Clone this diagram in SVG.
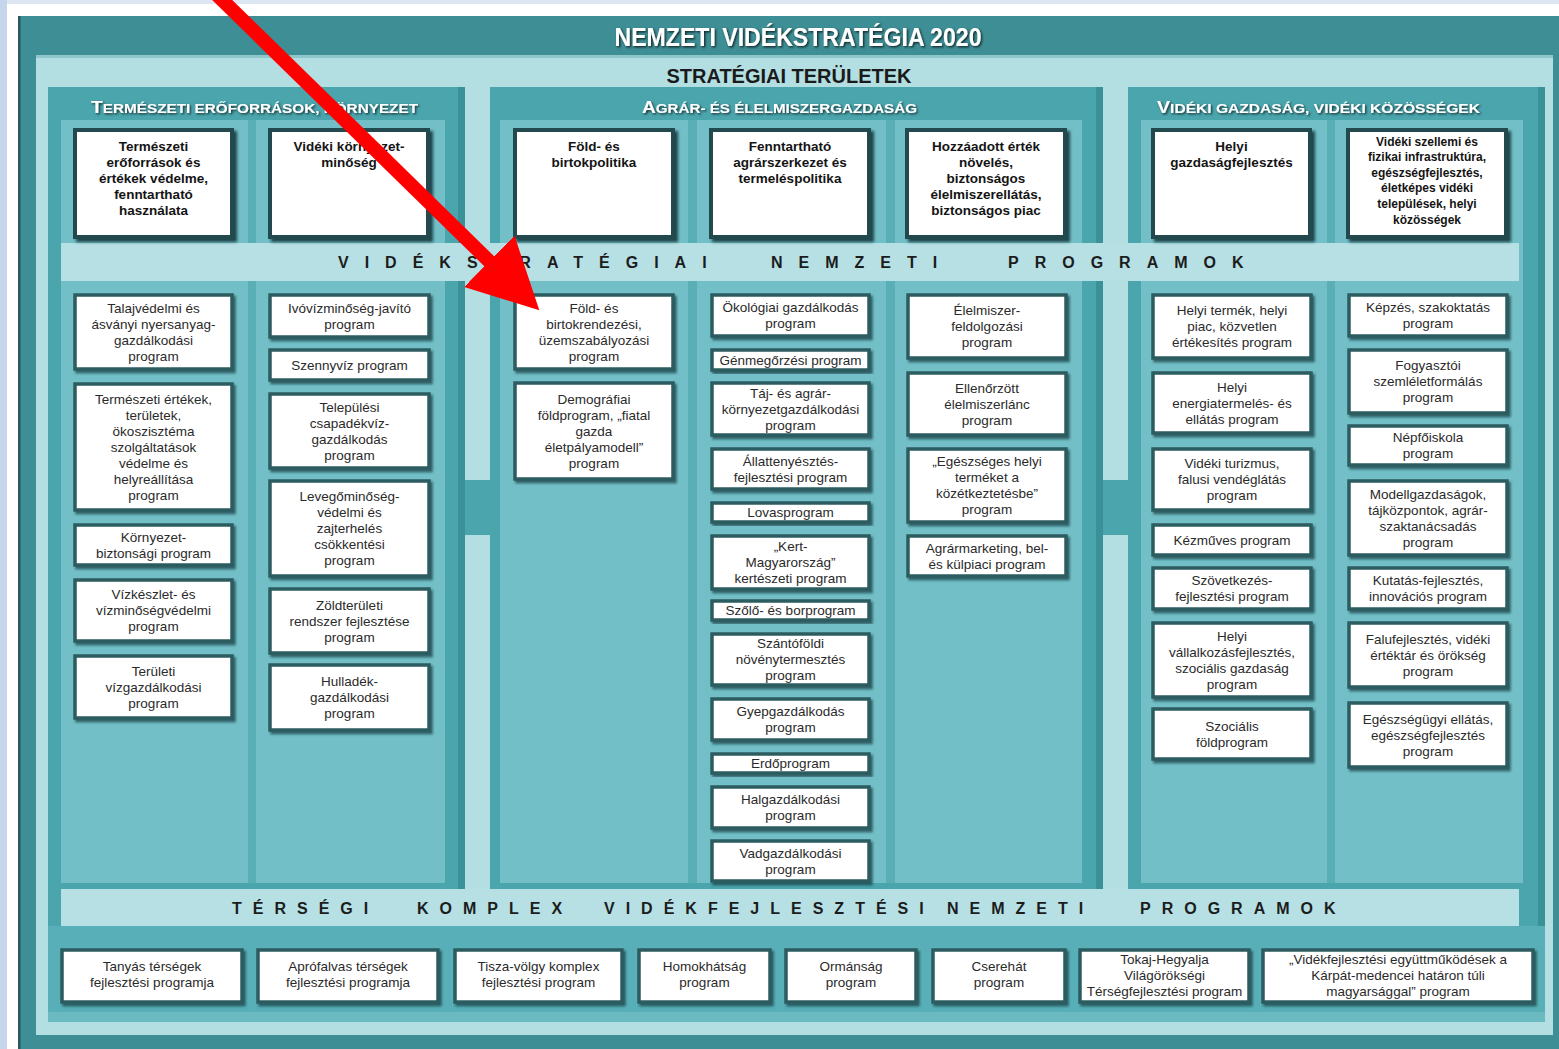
<svg xmlns="http://www.w3.org/2000/svg" width="1559" height="1049" viewBox="0 0 1559 1049">
<defs>
<style>
text{font-family:"Liberation Sans",Arial,sans-serif}
.pb{fill:#fff;stroke:#2c5c61;stroke-width:3.5;filter:url(#bsh)}
.sb{fill:#fff;stroke:#22494d;stroke-width:4;filter:url(#ssh)}
.pt{font-size:13.5px;fill:#2a2a2a;text-anchor:middle}
.st{font-size:13.5px;font-weight:bold;fill:#141414;text-anchor:middle}
.st2{font-size:12px;font-weight:bold;fill:#141414;text-anchor:middle}
.band{font-size:16px;font-weight:bold;fill:#1c1c1c;letter-spacing:16px}
.band2{font-size:16px;font-weight:bold;fill:#1c1c1c;letter-spacing:11px}
.hdr{font-weight:bold;fill:#fff;filter:url(#tsh)}
.big{font-size:17px}
.sm{font-size:13.5px}
.col{fill:#73bfc7}
.inr{fill:#5aaeb6}
.gap{fill:#b3dee2}
.shd{fill:#3a9198}
</style>
<filter id="tsh" x="-5%" y="-30%" width="110%" height="170%"><feDropShadow dx="1.3" dy="1.3" stdDeviation="0.9" flood-color="#000" flood-opacity="0.75"/></filter>
<filter id="bsh" x="-5%" y="-10%" width="115%" height="130%"><feDropShadow dx="2" dy="2.5" stdDeviation="1.2" flood-color="#12373a" flood-opacity="0.7"/></filter>
<filter id="ssh" x="-5%" y="-5%" width="115%" height="120%"><feDropShadow dx="3" dy="3" stdDeviation="1.6" flood-color="#0f2f32" flood-opacity="0.85"/></filter>
<marker id="redhead" markerUnits="userSpaceOnUse" viewBox="0 0 70 72" refX="1" refY="36" markerWidth="70" markerHeight="72" orient="auto"><path d="M0,0 L70,36 L0,72 Z" fill="#ff0000"/></marker>
</defs>

<g id="background">
<rect x="0" y="0" width="1559" height="1049" fill="#ffffff"/>
<rect x="0" y="0" width="1559" height="4" fill="#dce7f3"/>
<rect x="0" y="0" width="7" height="1049" fill="#c5d5ec"/>
<rect x="18" y="16" width="1545" height="1040" fill="#3e8e95"/>
<rect x="18" y="16" width="2.5" height="1040" fill="#27585c"/>
<rect x="36" y="55" width="1517" height="980" fill="#b3dee2"/>
<rect x="36" y="55" width="1517" height="3" fill="#8fc6cc"/>
<rect x="48" y="87" width="1497" height="935" fill="#4ba5ad"/>
<rect class="gap" x="465" y="87" width="25" height="393"/>
<rect class="gap" x="465" y="535" width="25" height="354"/>
<rect class="gap" x="1103" y="87" width="25" height="393"/>
<rect class="gap" x="1103" y="535" width="25" height="354"/>
<rect class="shd" x="458" y="87" width="7" height="802"/>
<rect class="shd" x="1096" y="87" width="7" height="802"/>
<rect class="shd" x="1538" y="87" width="7" height="935"/>
<rect class="inr" x="61" y="120" width="384" height="763"/>
<rect class="inr" x="500" y="120" width="582" height="763"/>
<rect class="inr" x="1141" y="120" width="382" height="763"/>
<rect class="col" x="61" y="120" width="187" height="763"/>
<rect class="col" x="256" y="120" width="189" height="763"/>
<rect class="col" x="500" y="120" width="188" height="763"/>
<rect class="col" x="697" y="120" width="189" height="763"/>
<rect class="col" x="895" y="120" width="187" height="763"/>
<rect class="col" x="1141" y="120" width="186" height="763"/>
<rect class="col" x="1335" y="120" width="188" height="763"/>
<rect x="48" y="926" width="1497" height="96" fill="#58afb7"/>
<rect x="48" y="1012" width="1497" height="10" fill="#6cbac1"/>
<rect x="61" y="243" width="1458" height="38" fill="#b6e0e4"/>
<rect x="61" y="889" width="1458" height="37" fill="#b6e0e4"/>
</g>

<g id="titles">
<text x="798" y="46" font-size="25" font-weight="bold" fill="#fff" text-anchor="middle" textLength="367" lengthAdjust="spacingAndGlyphs" filter="url(#tsh)">NEMZETI VIDÉKSTRATÉGIA 2020</text>
<text x="789" y="83" font-size="21" font-weight="bold" fill="#1a1a1a" text-anchor="middle" textLength="245" lengthAdjust="spacingAndGlyphs">STRATÉGIAI TERÜLETEK</text>
<text class="hdr" x="91" y="113" textLength="327" lengthAdjust="spacingAndGlyphs"><tspan class="big">T</tspan><tspan class="sm">ERMÉSZETI ERŐFORRÁSOK, KÖRNYEZET</tspan></text>
<text class="hdr" x="642" y="113" textLength="275" lengthAdjust="spacingAndGlyphs"><tspan class="big">A</tspan><tspan class="sm">GRÁR- ÉS ÉLELMISZERGAZDASÁG</tspan></text>
<text class="hdr" x="1157" y="113" textLength="323" lengthAdjust="spacingAndGlyphs"><tspan class="big">V</tspan><tspan class="sm">IDÉKI GAZDASÁG, VIDÉKI KÖZÖSSÉGEK</tspan></text>
<text class="band" x="338" y="268">VIDÉKSTRATÉGIAI</text>
<text class="band" x="771" y="268">NEMZETI</text>
<text class="band" x="1008" y="268">PROGRAMOK</text>
<text class="band2" x="232" y="914">TÉRSÉGI</text>
<text class="band2" x="417" y="914">KOMPLEX</text>
<text class="band2" x="604" y="914">VIDÉKFEJLESZTÉSI</text>
<text class="band2" x="947" y="914">NEMZETI</text>
<text class="band2" x="1140" y="914">PROGRAMOK</text>
</g>

<g id="strat-termeszeti-eroforrasok"><rect class="sb" x="75" y="130" width="157" height="107"/><text class="st" y="150.5"><tspan x="153.5">Természeti</tspan><tspan x="153.5" dy="16">erőforrások és</tspan><tspan x="153.5" dy="16">értékek védelme,</tspan><tspan x="153.5" dy="16">fenntartható</tspan><tspan x="153.5" dy="16">használata</tspan></text></g>
<g id="strat-videki-kornyezet"><rect class="sb" x="270" y="130" width="158" height="107"/><text class="st" y="150.5"><tspan x="349">Vidéki környezet-</tspan><tspan x="349" dy="16">minőség</tspan></text></g>
<g id="strat-fold-birtok"><rect class="sb" x="515" y="130" width="158" height="107"/><text class="st" y="150.5"><tspan x="594">Föld- és</tspan><tspan x="594" dy="16">birtokpolitika</tspan></text></g>
<g id="strat-agrarszerkezet"><rect class="sb" x="711" y="130" width="158" height="107"/><text class="st" y="150.5"><tspan x="790">Fenntartható</tspan><tspan x="790" dy="16">agrárszerkezet és</tspan><tspan x="790" dy="16">termeléspolitika</tspan></text></g>
<g id="strat-hozzaadott-ertek"><rect class="sb" x="907" y="130" width="158" height="107"/><text class="st" y="150.5"><tspan x="986">Hozzáadott érték</tspan><tspan x="986" dy="16">növelés,</tspan><tspan x="986" dy="16">biztonságos</tspan><tspan x="986" dy="16">élelmiszerellátás,</tspan><tspan x="986" dy="16">biztonságos piac</tspan></text></g>
<g id="strat-helyi-gazdasag"><rect class="sb" x="1153" y="130" width="157" height="107"/><text class="st" y="150.5"><tspan x="1231.5">Helyi</tspan><tspan x="1231.5" dy="16">gazdaságfejlesztés</tspan></text></g>
<g id="strat-videki-infrastruktura"><rect class="sb" x="1348" y="130" width="158" height="107"/><text class="st2" y="145.5"><tspan x="1427">Vidéki szellemi és</tspan><tspan x="1427" dy="15.6">fizikai infrastruktúra,</tspan><tspan x="1427" dy="15.6">egészségfejlesztés,</tspan><tspan x="1427" dy="15.6">életképes vidéki</tspan><tspan x="1427" dy="15.6">települések, helyi</tspan><tspan x="1427" dy="15.6">közösségek</tspan></text></g>

<g id="p-talajvedelmi"><rect class="pb" x="75" y="295" width="157" height="74"/><text class="pt" y="312.5"><tspan x="153.5">Talajvédelmi és</tspan><tspan x="153.5" dy="16">ásványi nyersanyag-</tspan><tspan x="153.5" dy="16">gazdálkodási</tspan><tspan x="153.5" dy="16">program</tspan></text></g>
<g id="p-termeszeti-ertekek"><rect class="pb" x="75" y="384" width="157" height="126"/><text class="pt" y="403.5"><tspan x="153.5">Természeti értékek,</tspan><tspan x="153.5" dy="16">területek,</tspan><tspan x="153.5" dy="16">ökoszisztéma</tspan><tspan x="153.5" dy="16">szolgáltatások</tspan><tspan x="153.5" dy="16">védelme és</tspan><tspan x="153.5" dy="16">helyreállítása</tspan><tspan x="153.5" dy="16">program</tspan></text></g>
<g id="p-kornyezetbiztonsagi"><rect class="pb" x="75" y="525" width="157" height="40"/><text class="pt" y="541.5"><tspan x="153.5">Környezet-</tspan><tspan x="153.5" dy="16">biztonsági program</tspan></text></g>
<g id="p-vizkeszlet"><rect class="pb" x="75" y="580" width="157" height="61"/><text class="pt" y="599"><tspan x="153.5">Vízkészlet- és</tspan><tspan x="153.5" dy="16">vízminőségvédelmi</tspan><tspan x="153.5" dy="16">program</tspan></text></g>
<g id="p-teruleti-vizgazd"><rect class="pb" x="75" y="656" width="157" height="62"/><text class="pt" y="675.5"><tspan x="153.5">Területi</tspan><tspan x="153.5" dy="16">vízgazdálkodási</tspan><tspan x="153.5" dy="16">program</tspan></text></g>

<g id="p-ivoviz"><rect class="pb" x="270" y="295" width="159" height="42"/><text class="pt" y="312.5"><tspan x="349.5">Ivóvízminőség-javító</tspan><tspan x="349.5" dy="16">program</tspan></text></g>
<g id="p-szennyviz"><rect class="pb" x="270" y="350" width="159" height="30"/><text class="pt" y="369.5"><tspan x="349.5">Szennyvíz program</tspan></text></g>
<g id="p-csapadekviz"><rect class="pb" x="270" y="394" width="159" height="74"/><text class="pt" y="411.5"><tspan x="349.5">Települési</tspan><tspan x="349.5" dy="16">csapadékvíz-</tspan><tspan x="349.5" dy="16">gazdálkodás</tspan><tspan x="349.5" dy="16">program</tspan></text></g>
<g id="p-levegominoseg"><rect class="pb" x="270" y="481" width="159" height="95"/><text class="pt" y="501"><tspan x="349.5">Levegőminőség-</tspan><tspan x="349.5" dy="16">védelmi és</tspan><tspan x="349.5" dy="16">zajterhelés</tspan><tspan x="349.5" dy="16">csökkentési</tspan><tspan x="349.5" dy="16">program</tspan></text></g>
<g id="p-zoldteruleti"><rect class="pb" x="270" y="589" width="159" height="64"/><text class="pt" y="609.5"><tspan x="349.5">Zöldterületi</tspan><tspan x="349.5" dy="16">rendszer fejlesztése</tspan><tspan x="349.5" dy="16">program</tspan></text></g>
<g id="p-hulladek"><rect class="pb" x="270" y="665" width="159" height="65"/><text class="pt" y="686"><tspan x="349.5">Hulladék-</tspan><tspan x="349.5" dy="16">gazdálkodási</tspan><tspan x="349.5" dy="16">program</tspan></text></g>

<g id="p-foldrendezesi"><rect class="pb" x="515" y="295" width="158" height="74"/><text class="pt" y="312.5"><tspan x="594">Föld- és</tspan><tspan x="594" dy="16">birtokrendezési,</tspan><tspan x="594" dy="16">üzemszabályozási</tspan><tspan x="594" dy="16">program</tspan></text></g>
<g id="p-demografiai"><rect class="pb" x="515" y="383" width="158" height="96"/><text class="pt" y="403.5"><tspan x="594">Demográfiai</tspan><tspan x="594" dy="16">földprogram, „fiatal</tspan><tspan x="594" dy="16">gazda</tspan><tspan x="594" dy="16">életpályamodell”</tspan><tspan x="594" dy="16">program</tspan></text></g>

<g id="p-okologiai"><rect class="pb" x="712" y="295" width="157" height="41"/><text class="pt" y="312"><tspan x="790.5">Ökológiai gazdálkodás</tspan><tspan x="790.5" dy="16">program</tspan></text></g>
<g id="p-genmegorzesi"><rect class="pb" x="712" y="350" width="157" height="20"/><text class="pt" y="364.5"><tspan x="790.5">Génmegőrzési program</tspan></text></g>
<g id="p-taj-agrar"><rect class="pb" x="712" y="383" width="157" height="52"/><text class="pt" y="397.5"><tspan x="790.5">Táj- és agrár-</tspan><tspan x="790.5" dy="16">környezetgazdálkodási</tspan><tspan x="790.5" dy="16">program</tspan></text></g>
<g id="p-allattenyesztes"><rect class="pb" x="712" y="449" width="157" height="40"/><text class="pt" y="465.5"><tspan x="790.5">Állattenyésztés-</tspan><tspan x="790.5" dy="16">fejlesztési program</tspan></text></g>
<g id="p-lovas"><rect class="pb" x="712" y="503" width="157" height="19"/><text class="pt" y="517"><tspan x="790.5">Lovasprogram</tspan></text></g>
<g id="p-kert"><rect class="pb" x="712" y="536" width="157" height="53"/><text class="pt" y="551"><tspan x="790.5">„Kert-</tspan><tspan x="790.5" dy="16">Magyarország”</tspan><tspan x="790.5" dy="16">kertészeti program</tspan></text></g>
<g id="p-szolo-bor"><rect class="pb" x="712" y="601" width="157" height="19"/><text class="pt" y="615"><tspan x="790.5">Szőlő- és borprogram</tspan></text></g>
<g id="p-szantofoldi"><rect class="pb" x="712" y="634" width="157" height="51"/><text class="pt" y="648"><tspan x="790.5">Szántóföldi</tspan><tspan x="790.5" dy="16">növénytermesztés</tspan><tspan x="790.5" dy="16">program</tspan></text></g>
<g id="p-gyep"><rect class="pb" x="712" y="699" width="157" height="41"/><text class="pt" y="716"><tspan x="790.5">Gyepgazdálkodás</tspan><tspan x="790.5" dy="16">program</tspan></text></g>
<g id="p-erdo"><rect class="pb" x="712" y="754" width="157" height="19"/><text class="pt" y="768"><tspan x="790.5">Erdőprogram</tspan></text></g>
<g id="p-hal"><rect class="pb" x="712" y="787" width="157" height="41"/><text class="pt" y="804"><tspan x="790.5">Halgazdálkodási</tspan><tspan x="790.5" dy="16">program</tspan></text></g>
<g id="p-vad"><rect class="pb" x="712" y="841" width="157" height="40"/><text class="pt" y="857.5"><tspan x="790.5">Vadgazdálkodási</tspan><tspan x="790.5" dy="16">program</tspan></text></g>

<g id="p-elelmiszer-feldolgozasi"><rect class="pb" x="908" y="295" width="158" height="63"/><text class="pt" y="315"><tspan x="987">Élelmiszer-</tspan><tspan x="987" dy="16">feldolgozási</tspan><tspan x="987" dy="16">program</tspan></text></g>
<g id="p-ellenorzott"><rect class="pb" x="908" y="373" width="158" height="62"/><text class="pt" y="392.5"><tspan x="987">Ellenőrzött</tspan><tspan x="987" dy="16">élelmiszerlánc</tspan><tspan x="987" dy="16">program</tspan></text></g>
<g id="p-egeszseges-helyi"><rect class="pb" x="908" y="449" width="158" height="73"/><text class="pt" y="466"><tspan x="987">„Egészséges helyi</tspan><tspan x="987" dy="16">terméket a</tspan><tspan x="987" dy="16">közétkeztetésbe”</tspan><tspan x="987" dy="16">program</tspan></text></g>
<g id="p-agrarmarketing"><rect class="pb" x="908" y="536" width="158" height="40"/><text class="pt" y="552.5"><tspan x="987">Agrármarketing, bel-</tspan><tspan x="987" dy="16">és külpiaci program</tspan></text></g>

<g id="p-helyi-termek"><rect class="pb" x="1153" y="295" width="158" height="63"/><text class="pt" y="315"><tspan x="1232">Helyi termék, helyi</tspan><tspan x="1232" dy="16">piac, közvetlen</tspan><tspan x="1232" dy="16">értékesítés program</tspan></text></g>
<g id="p-helyi-energia"><rect class="pb" x="1153" y="373" width="158" height="60"/><text class="pt" y="391.5"><tspan x="1232">Helyi</tspan><tspan x="1232" dy="16">energiatermelés- és</tspan><tspan x="1232" dy="16">ellátás program</tspan></text></g>
<g id="p-videki-turizmus"><rect class="pb" x="1153" y="449" width="158" height="61"/><text class="pt" y="468"><tspan x="1232">Vidéki turizmus,</tspan><tspan x="1232" dy="16">falusi vendéglátás</tspan><tspan x="1232" dy="16">program</tspan></text></g>
<g id="p-kezmuves"><rect class="pb" x="1153" y="525" width="158" height="30"/><text class="pt" y="544.5"><tspan x="1232">Kézműves program</tspan></text></g>
<g id="p-szovetkezes"><rect class="pb" x="1153" y="568" width="158" height="41"/><text class="pt" y="585"><tspan x="1232">Szövetkezés-</tspan><tspan x="1232" dy="16">fejlesztési program</tspan></text></g>
<g id="p-helyi-vallalkozas"><rect class="pb" x="1153" y="623" width="158" height="74"/><text class="pt" y="640.5"><tspan x="1232">Helyi</tspan><tspan x="1232" dy="16">vállalkozásfejlesztés,</tspan><tspan x="1232" dy="16">szociális gazdaság</tspan><tspan x="1232" dy="16">program</tspan></text></g>
<g id="p-szocialis-fold"><rect class="pb" x="1153" y="709" width="158" height="50"/><text class="pt" y="730.5"><tspan x="1232">Szociális</tspan><tspan x="1232" dy="16">földprogram</tspan></text></g>

<g id="p-kepzes"><rect class="pb" x="1349" y="295" width="158" height="41"/><text class="pt" y="312"><tspan x="1428">Képzés, szakoktatás</tspan><tspan x="1428" dy="16">program</tspan></text></g>
<g id="p-fogyasztoi"><rect class="pb" x="1349" y="350" width="158" height="63"/><text class="pt" y="370"><tspan x="1428">Fogyasztói</tspan><tspan x="1428" dy="16">szemléletformálás</tspan><tspan x="1428" dy="16">program</tspan></text></g>
<g id="p-nepfoiskola"><rect class="pb" x="1349" y="426" width="158" height="39"/><text class="pt" y="442"><tspan x="1428">Népfőiskola</tspan><tspan x="1428" dy="16">program</tspan></text></g>
<g id="p-modellgazdasagok"><rect class="pb" x="1349" y="481" width="158" height="74"/><text class="pt" y="498.5"><tspan x="1428">Modellgazdaságok,</tspan><tspan x="1428" dy="16">tájközpontok, agrár-</tspan><tspan x="1428" dy="16">szaktanácsadás</tspan><tspan x="1428" dy="16">program</tspan></text></g>
<g id="p-kutatas"><rect class="pb" x="1349" y="568" width="158" height="41"/><text class="pt" y="585"><tspan x="1428">Kutatás-fejlesztés,</tspan><tspan x="1428" dy="16">innovációs program</tspan></text></g>
<g id="p-falufejlesztes"><rect class="pb" x="1349" y="623" width="158" height="64"/><text class="pt" y="643.5"><tspan x="1428">Falufejlesztés, vidéki</tspan><tspan x="1428" dy="16">értéktár és örökség</tspan><tspan x="1428" dy="16">program</tspan></text></g>
<g id="p-egeszsegugyi"><rect class="pb" x="1349" y="703" width="158" height="64"/><text class="pt" y="723.5"><tspan x="1428">Egészségügyi ellátás,</tspan><tspan x="1428" dy="16">egészségfejlesztés</tspan><tspan x="1428" dy="16">program</tspan></text></g>

<g id="t-tanyas"><rect class="pb" x="62" y="950" width="180" height="52"/><text class="pt" y="971"><tspan x="152">Tanyás térségek</tspan><tspan x="152" dy="16">fejlesztési programja</tspan></text></g>
<g id="t-aprofalvas"><rect class="pb" x="258" y="950" width="180" height="52"/><text class="pt" y="971"><tspan x="348">Aprófalvas térségek</tspan><tspan x="348" dy="16">fejlesztési programja</tspan></text></g>
<g id="t-tisza-volgy"><rect class="pb" x="455" y="950" width="167" height="52"/><text class="pt" y="971"><tspan x="538.5">Tisza-völgy komplex</tspan><tspan x="538.5" dy="16">fejlesztési program</tspan></text></g>
<g id="t-homokhatsag"><rect class="pb" x="639" y="950" width="131" height="52"/><text class="pt" y="971"><tspan x="704.5">Homokhátság</tspan><tspan x="704.5" dy="16">program</tspan></text></g>
<g id="t-ormansag"><rect class="pb" x="786" y="950" width="130" height="52"/><text class="pt" y="971"><tspan x="851">Ormánság</tspan><tspan x="851" dy="16">program</tspan></text></g>
<g id="t-cserehat"><rect class="pb" x="933" y="950" width="132" height="52"/><text class="pt" y="971"><tspan x="999">Cserehát</tspan><tspan x="999" dy="16">program</tspan></text></g>
<g id="t-tokaj"><rect class="pb" x="1080" y="950" width="169" height="52"/><text class="pt" y="963.5"><tspan x="1164.5">Tokaj-Hegyalja</tspan><tspan x="1164.5" dy="16">Világörökségi</tspan><tspan x="1164.5" dy="16">Térségfejlesztési program</tspan></text></g>
<g id="t-karpat-medence"><rect class="pb" x="1263" y="950" width="270" height="52"/><text class="pt" y="963.5"><tspan x="1398">„Vidékfejlesztési együttműködések a</tspan><tspan x="1398" dy="16">Kárpát-medencei határon túli</tspan><tspan x="1398" dy="16">magyarsággal” program</tspan></text></g>

<g id="connectors">
<line x1="212" y1="-10" x2="490" y2="262" stroke="#ff0000" stroke-width="14" marker-end="url(#redhead)"/>
</g>
</svg>
